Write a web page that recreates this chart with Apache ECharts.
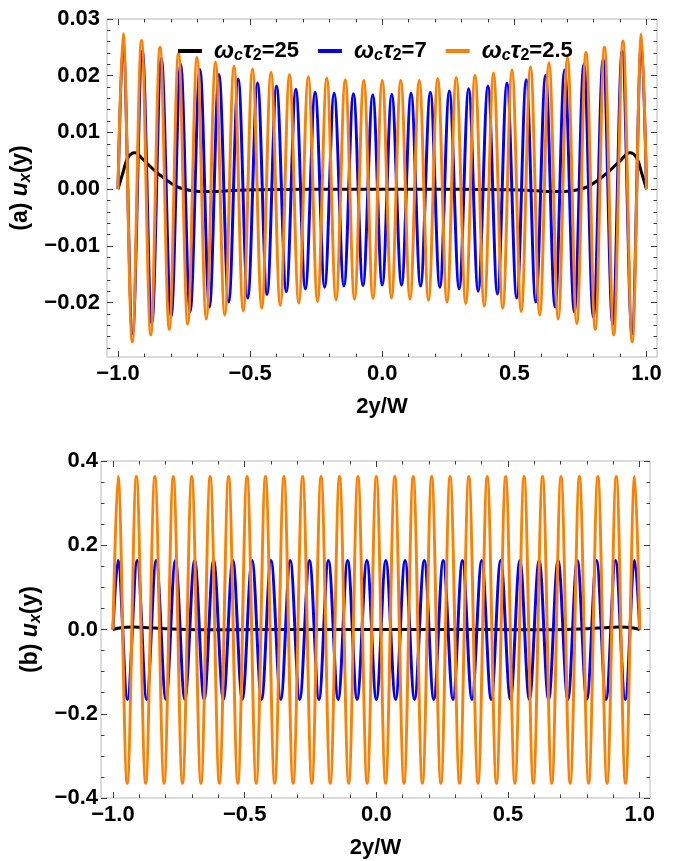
<!DOCTYPE html>
<html>
<head>
<meta charset="utf-8">
<title>u_x(y)</title>
<script src="https://cdn.jsdelivr.net/npm/echarts@6/dist/echarts.min.js"></script>
<style>
  html, body { margin: 0; padding: 0; background: #fff; }
  #main { width: 678px; height: 861px; }
</style>
</head>
<body>
<div id="main"></div>
<script>
// ---- tick values ----
var xTicks = [-1, -0.5, 0, 0.5, 1];
var xMinor = [-0.9, -0.8, -0.7, -0.6, -0.4, -0.3, -0.2, -0.1, 0.1, 0.2, 0.3, 0.4, 0.6, 0.7, 0.8, 0.9];
var yTicksA = [-0.02, -0.01, 0, 0.01, 0.02, 0.03];
var yMinorA = [-0.028, -0.026, -0.024, -0.022, -0.018, -0.016, -0.014, -0.012, -0.008, -0.006, -0.004, -0.002,
               0.002, 0.004, 0.006, 0.008, 0.012, 0.014, 0.016, 0.018, 0.022, 0.024, 0.026, 0.028];
var yTicksB = [-0.4, -0.2, 0, 0.2, 0.4];
var yMinorB = [-0.35, -0.3, -0.25, -0.15, -0.1, -0.05, 0.05, 0.1, 0.15, 0.25, 0.3, 0.35];

// ---- series (turning points) ----
// orange, w_c tau_2 = 2.5
var orangeX = [-1.0, -0.981, -0.946, -0.911, -0.876, -0.841, -0.806, -0.771, -0.736, -0.701, -0.666, -0.631,
  -0.596, -0.561, -0.526, -0.491, -0.456, -0.421, -0.386, -0.351, -0.316, -0.280, -0.245, -0.210, -0.175,
  -0.140, -0.105, -0.070, -0.035, 0.0, 0.035, 0.070, 0.105, 0.140, 0.175, 0.210, 0.245, 0.280, 0.316, 0.351,
  0.386, 0.421, 0.456, 0.491, 0.526, 0.561, 0.596, 0.631, 0.666, 0.701, 0.736, 0.771, 0.806, 0.841, 0.876,
  0.911, 0.946, 0.981, 1.0];
var orangeA = [0, 0.0274, -0.0269, 0.0262, -0.0257, 0.0250, -0.0247, 0.0239, -0.0238, 0.0232, -0.0229, 0.0224,
  -0.0222, 0.0217, -0.0215, 0.0212, -0.0210, 0.0206, -0.0205, 0.0202, -0.0201, 0.0198, -0.0198, 0.0196, -0.0195,
  0.0193, -0.0194, 0.0192, -0.0193, 0.0192, -0.0192, 0.0192, -0.0194, 0.0192, -0.0196, 0.0195, -0.0199, 0.0197,
  -0.0202, 0.0201, -0.0206, 0.0205, -0.0210, 0.0210, -0.0216, 0.0216, -0.0222, 0.0223, -0.0229, 0.0232, -0.0237,
  0.0241, -0.0247, 0.0250, -0.0257, 0.0261, -0.0269, 0.0273, 0];
var orangeB = [0, 0.363, -0.365, 0.363, -0.365, 0.363, -0.365, 0.363, -0.365, 0.363, -0.365, 0.363,
  -0.365, 0.363, -0.365, 0.363, -0.365, 0.363, -0.365, 0.363, -0.365, 0.363, -0.365, 0.363, -0.365,
  0.363, -0.365, 0.363, -0.365, 0.363, -0.365, 0.363, -0.365, 0.363, -0.365, 0.363, -0.365, 0.363,
  -0.365, 0.363, -0.365, 0.363, -0.365, 0.363, -0.365, 0.363, -0.365, 0.363, -0.365, 0.363, -0.365,
  0.363, -0.365, 0.363, -0.365, 0.363, -0.365, 0.363, 0];

// blue, w_c tau_2 = 7
var blueX = [-1.0, -0.981, -0.945, -0.908, -0.872, -0.836, -0.799, -0.763, -0.727, -0.690, -0.654, -0.618,
  -0.581, -0.545, -0.509, -0.472, -0.436, -0.400, -0.363, -0.327, -0.291, -0.254, -0.218, -0.182, -0.145,
  -0.109, -0.073, -0.036, 0.0, 0.036, 0.073, 0.109, 0.145, 0.182, 0.218, 0.254, 0.291, 0.327, 0.363, 0.400,
  0.436, 0.472, 0.509, 0.545, 0.581, 0.618, 0.654, 0.690, 0.727, 0.763, 0.799, 0.836, 0.872, 0.908, 0.945,
  0.981, 1.0];
var blueA = [0, 0.0258, -0.0255, 0.0243, -0.0237, 0.0231, -0.0225, 0.0220, -0.0216, 0.0211, -0.0208, 0.0202,
  -0.0199, 0.0194, -0.0192, 0.0187, -0.0186, 0.0182, -0.0181, 0.0176, -0.0176, 0.0171, -0.0173, 0.0169,
  -0.0171, 0.0168, -0.0170, 0.0166, -0.0169, 0.0167, -0.0169, 0.0169, -0.0171, 0.0171, -0.0173, 0.0173,
  -0.0176, 0.0177, -0.0180, 0.0182, -0.0185, 0.0187, -0.0192, 0.0193, -0.0199, 0.0201, -0.0208, 0.0210,
  -0.0217, 0.0220, -0.0226, 0.0230, -0.0238, 0.0243, -0.0255, 0.0258, 0];
var blueB = [0, 0.164, -0.166, 0.164, -0.166, 0.164, -0.166, 0.164, -0.166, 0.164, -0.166, 0.164,
  -0.166, 0.164, -0.166, 0.164, -0.166, 0.164, -0.166, 0.164, -0.166, 0.164, -0.166, 0.164,
  -0.166, 0.164, -0.166, 0.164, -0.166, 0.164, -0.166, 0.164, -0.166, 0.164, -0.166, 0.164,
  -0.166, 0.164, -0.166, 0.164, -0.166, 0.164, -0.166, 0.164, -0.166, 0.164, -0.166, 0.164,
  -0.166, 0.164, -0.166, 0.164, -0.166, 0.164, -0.166, 0.164, 0];

// black, w_c tau_2 = 25
var blackXA = [-1.0, -0.982, -0.963, -0.937, -0.90, -0.86, -0.82, -0.78, -0.74, -0.69, -0.63, -0.55, -0.45,
  -0.30, 0.0, 0.30, 0.45, 0.55, 0.63, 0.69, 0.74, 0.78, 0.82, 0.86, 0.90, 0.937, 0.963, 0.982, 1.0];
var blackA = [0, 0.0028, 0.0055, 0.0064, 0.0050, 0.0032, 0.0017, 0.0005, -0.0001, -0.0004, -0.0004, -0.0002,
  -0.0001, 0, 0, 0, -0.0001, -0.0002, -0.0004, -0.0004, -0.0001, 0.0005, 0.0017, 0.0032, 0.0050, 0.0064,
  0.0055, 0.0028, 0];
var blackXB = [-1.0, -0.975, -0.95, -0.922, -0.88, -0.84, -0.80, -0.75, -0.68, -0.58, -0.45, -0.30, 0.0,
  0.30, 0.45, 0.58, 0.68, 0.75, 0.80, 0.84, 0.88, 0.922, 0.95, 0.975, 1.0];
var blackB = [0, 0.0035, 0.0052, 0.0058, 0.0050, 0.0033, 0.0017, 0.0004, -0.0004, -0.0005, -0.0002, 0, 0,
  0, -0.0002, -0.0005, -0.0004, 0.0004, 0.0017, 0.0033, 0.0050, 0.0058, 0.0052, 0.0035, 0];

var FONT = '"Liberation Sans", Arial, sans-serif';
var TICK = '#3c3c3c';
var ORANGE = '#ff8000', BLUE = '#0000ff', BLACK = '#000000';

function fmt(d) {
  return function (v) {
    var s = Math.abs(v).toFixed(d);
    return v < -1e-12 ? '\u2212' + s : s;
  };
}

function pairs(xs, ys) {
  return xs.map(function (x, i) { return [x, ys[i]]; });
}

function axis(g, range, pos, ticks, len, extra) {
  var ax = {
    type: 'value', gridIndex: g, min: range[0], max: range[1], position: pos,
    axisLine: { show: false, onZero: false },
    axisTick: { show: true, inside: true, length: len, customValues: ticks,
      lineStyle: { color: TICK, width: 1 } },
    axisLabel: { show: false },
    splitLine: { show: false }
  };
  if (extra) Object.keys(extra).forEach(function (k) { ax[k] = extra[k]; });
  return ax;
}

var labelStyle = { show: true, fontFamily: FONT, fontSize: 22, fontWeight: 'bold', color: '#000' };
function lab(values, d, margin) {
  var o = { customValues: values, formatter: fmt(d), margin: margin };
  Object.keys(labelStyle).forEach(function (k) { o[k] = labelStyle[k]; });
  return o;
}

var nameRich = {
  n: { fontFamily: FONT, fontSize: 23, fontWeight: 'bold', color: '#000', lineHeight: 26 },
  i: { fontFamily: FONT, fontSize: 23, fontWeight: 'bold', fontStyle: 'italic', color: '#000', lineHeight: 26 },
  s: { fontFamily: FONT, fontSize: 16, fontWeight: 'bold', fontStyle: 'italic', color: '#000', lineHeight: 13, verticalAlign: 'bottom' }
};

var xRangeA = [-1.0417, 1.0398], yRangeA = [-0.0296, 0.03];
var xRangeB = [-1.0455, 1.039], yRangeB = [-0.4, 0.4];

function xAxes(g, range) {
  return [
    axis(g, range, 'bottom', xTicks, 6, {
      axisLabel: lab(xTicks, 1, 6),
      name: '2y/W', nameLocation: 'middle', nameGap: 39,
      nameTextStyle: { fontFamily: FONT, fontSize: 22, fontWeight: 'bold', color: '#000' }
    }),
    axis(g, range, 'bottom', xMinor, 3.5),
    axis(g, range, 'top', xTicks, 6),
    axis(g, range, 'top', xMinor, 3.5)
  ];
}

function yAxes(g, range, ticks, minor, d, margin, letter, gap) {
  return [
    axis(g, range, 'left', ticks, 6, {
      axisLabel: lab(ticks, d, margin),
      name: '{n|(' + letter + ') }{i|u}{s|x}{n|(y)}', nameLocation: 'middle', nameGap: gap,
      nameTextStyle: { rich: nameRich }
    }),
    axis(g, range, 'left', minor, 3.5),
    axis(g, range, 'right', ticks, 6),
    axis(g, range, 'right', minor, 3.5)
  ];
}

function line(name, color, xs, ys, g) {
  return {
    name: name, type: 'line', xAxisIndex: g * 4, yAxisIndex: g * 4,
    data: pairs(xs, ys), showSymbol: false, symbol: 'none', smooth: 0.36,
    lineStyle: { color: color, width: 3 }, itemStyle: { color: color },
    emphasis: { disabled: true }, silent: true
  };
}

var chart = echarts.init(document.getElementById('main'), null, { renderer: 'canvas' });

chart.setOption({
  animation: false,
  backgroundColor: '#ffffff',
  grid: [
    { left: 107, top: 19, width: 550, height: 338, show: true, borderColor: '#b8b8b8', borderWidth: 1 },
    { left: 101, top: 461, width: 549, height: 337, show: true, borderColor: '#b8b8b8', borderWidth: 1 }
  ],
  legend: {
    left: 178, top: 39, padding: 0, itemGap: 19, itemWidth: 24, itemHeight: 4, icon: 'rect',
    data: ['25', '7', '2.5'],
    formatter: function (name) {
      return '{w0|\u03c9}{sc|c}{w|\u03c4}{sn|2}{n|=' + name + '}';
    },
    textStyle: {
      rich: {
        w0: { fontFamily: FONT, fontSize: 24, fontWeight: 'bold', fontStyle: 'italic', color: '#000', lineHeight: 26, padding: [0, 0, 0, 7] },
        w: { fontFamily: FONT, fontSize: 24, fontWeight: 'bold', fontStyle: 'italic', color: '#000', lineHeight: 26 },
        sc: { fontFamily: FONT, fontSize: 16, fontWeight: 'bold', fontStyle: 'italic', color: '#000', lineHeight: 13, verticalAlign: 'bottom' },
        sn: { fontFamily: FONT, fontSize: 16, fontWeight: 'bold', color: '#000', lineHeight: 13, verticalAlign: 'bottom' },
        n: { fontFamily: FONT, fontSize: 22, fontWeight: 'bold', color: '#000', lineHeight: 26 }
      }
    }
  },
  xAxis: xAxes(0, xRangeA).concat(xAxes(1, xRangeB)),
  yAxis: yAxes(0, yRangeA, yTicksA, yMinorA, 2, 7, 'a', 62).concat(
         yAxes(1, yRangeB, yTicksB, yMinorB, 1, 3, 'b', 56)),
  series: [
    line('25', BLACK, blackXA, blackA, 0),
    line('7', BLUE, blueX, blueA, 0),
    line('2.5', ORANGE, orangeX, orangeA, 0),
    line('25', BLACK, blackXB, blackB, 1),
    line('7', BLUE, blueX, blueB, 1),
    line('2.5', ORANGE, orangeX, orangeB, 1)
  ]
});
</script>
</body>
</html>
